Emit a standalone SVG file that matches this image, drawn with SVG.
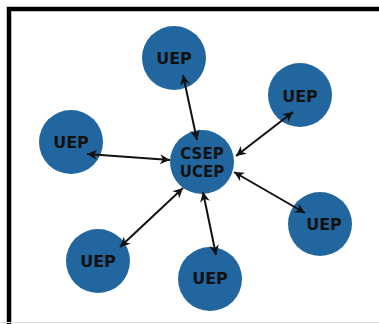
<svg xmlns="http://www.w3.org/2000/svg" width="379" height="324" viewBox="0 0 379 324">
<style>
.n{fill:#21669f}
.t{font-family:"DejaVu Sans",sans-serif;font-weight:bold;font-size:16px;fill:#111;text-anchor:middle;dominant-baseline:central}
.c{font-size:15px}
.e{stroke:#111;stroke-width:2;fill:none;marker-start:url(#h);marker-end:url(#h)}
</style>
<defs>
<marker id="h" viewBox="0 0 10 10" refX="10" refY="5" markerWidth="11" markerHeight="10" orient="auto-start-reverse" markerUnits="userSpaceOnUse">
<path d="M0,0 L10,5 L0,10 L3,5 z" fill="#111"/>
</marker>
</defs>
<rect width="379" height="324" fill="#fff"/>
<path d="M9,324 V9 H379" stroke="#000" stroke-width="4.5" fill="none"/>
<line x1="0" y1="322.5" x2="379" y2="322.5" stroke="#ddd" stroke-width="1"/>
<g id="n0"><circle class="n" cx="202" cy="162" r="32"/><text class="t c" x="202" y="154">CSEP</text><text class="t c" x="202" y="172">UCEP</text></g>
<g id="n1"><circle class="n" cx="174" cy="58" r="32"/><text class="t" x="174" y="58">UEP</text></g>
<g id="n2"><circle class="n" cx="300" cy="95" r="32"/><text class="t" x="300" y="96">UEP</text></g>
<g id="n3"><circle class="n" cx="71" cy="142" r="32"/><text class="t" x="71" y="142">UEP</text></g>
<g id="n4"><circle class="n" cx="320" cy="224" r="32"/><text class="t" x="324" y="224">UEP</text></g>
<g id="n5"><circle class="n" cx="98" cy="261" r="32"/><text class="t" x="98" y="261">UEP</text></g>
<g id="n6"><circle class="n" cx="210" cy="279" r="32"/><text class="t" x="210" y="278">UEP</text></g>
<g id="edges">
<line class="e" x1="183" y1="75" x2="197" y2="140"/>
<line class="e" x1="293" y1="112" x2="236" y2="156"/>
<line class="e" x1="87" y1="154" x2="170" y2="160"/>
<line class="e" x1="234" y1="172" x2="305" y2="213"/>
<line class="e" x1="183" y1="188" x2="120" y2="247"/>
<line class="e" x1="203" y1="192" x2="216" y2="255"/>
</g>
</svg>
